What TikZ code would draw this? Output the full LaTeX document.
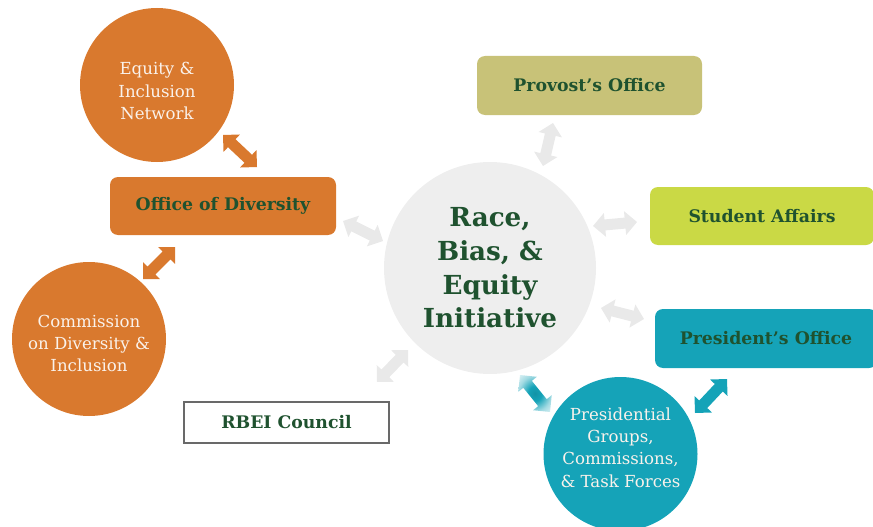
\documentclass[tikz,border=0pt]{standalone}
\usepackage{fontspec}
\setmainfont{DejaVu Serif}
\usetikzlibrary{calc}
\definecolor{orng}{RGB}{217,121,46}
\definecolor{dgreen}{RGB}{31,82,47}
\definecolor{khaki}{RGB}{200,194,120}
\definecolor{limeg}{RGB}{202,217,69}
\definecolor{tealc}{RGB}{21,163,184}
\definecolor{cgray}{RGB}{238,238,238}
\definecolor{agray}{RGB}{233,233,233}
\definecolor{bgray}{RGB}{105,105,105}
\definecolor{ltext}{RGB}{250,242,235}
\pgfdeclareradialshading{glowsh}{\pgfpoint{0bp}{0bp}}{color(0bp)=(tealc!90!black); color(10bp)=(tealc); color(24bp)=(tealc!40); color(36bp)=(tealc!12); color(50bp)=(tealc!6)}
\newcommand\barrow[4]{%
  \coordinate (#4m) at ($(#2)!12pt!(#3)$);
  \coordinate (#4n) at ($(#3)!12pt!(#2)$);
  \path[#1] (#2) -- ($(#4m)!12pt!90:(#3)$) -- ($(#4m)!5.5pt!90:(#3)$)
    -- ($(#4n)!5.5pt!-90:(#2)$) -- ($(#4n)!12pt!-90:(#2)$) -- (#3)
    -- ($(#4n)!12pt!90:(#2)$) -- ($(#4n)!5.5pt!90:(#2)$)
    -- ($(#4m)!5.5pt!-90:(#3)$) -- ($(#4m)!12pt!-90:(#3)$) -- cycle;
}
\tikzset{
  boxlab/.style={rounded corners=8pt, minimum width=225pt, minimum height=59pt,
    inner sep=0pt, text=dgreen, font=\fontsize{17.3}{20}\bfseries\selectfont},
  circ/.style={circle, minimum size=154pt, inner sep=0pt},
  circtext/.style={align=center, text=ltext, font=\fontsize{16.6}{22.3}\selectfont},
  orangearrow/.style={fill=orng},
  grayarrow/.style={fill=agray},
  tealarrow/.style={fill=tealc},
  glowarrow/.style={shading=glowsh},
}
\begin{document}
\begin{tikzpicture}[x=1pt, y=-1pt]
\useasboundingbox (0,0) rectangle (873,527);
% central circle
\node[circle, fill=cgray, minimum size=212pt, inner sep=0pt, align=center, text=dgreen,
  font=\fontsize{26.2}{33.7}\bfseries\selectfont] (rbe) at (490,268)
  {Race,\\Bias, \&\\Equity\\Initiative};
% left group
\node[circ, fill=orng, label={[circtext, yshift=-6pt]center:{Equity \&\\Inclusion\\Network}}] (eqn) at (157,85) {};
\node[boxlab, fill=orng, minimum width=226pt, minimum height=58pt] (div) at (223,206) {Office of Diversity};
\node[circ, fill=orng, label={[circtext, yshift=-4.5pt]center:{Commission\\on Diversity \&\\Inclusion}}] (cdi) at (89,339) {};
\node[draw=bgray, line width=1.3pt, fill=white, minimum width=205pt, minimum height=41pt,
  inner sep=0pt, text=dgreen, font=\fontsize{17.3}{20}\bfseries\selectfont] (rbei) at (286.5,422.5) {RBEI Council};
% right group
\node[boxlab, fill=khaki] (prov) at (589.5,85.5) {Provost’s Office};
\node[boxlab, fill=limeg, minimum width=224pt, minimum height=58pt] (stud) at (762,216) {Student Affairs};
\node[boxlab, fill=tealc, minimum width=222pt] (pres) at (766,338.5) {President’s Office};
\node[circ, fill=tealc, label={[circtext, yshift=6.5pt]center:{Presidential\\Groups,\\Commissions,\\\& Task Forces}}] (pgc) at (620.5,454) {};
% arrow end points
\coordinate (a1s) at (223,135); \coordinate (a1e) at (257,167);
\coordinate (a2s) at (175,247); \coordinate (a2e) at (143,279);
\coordinate (a3s) at (343,221); \coordinate (a3e) at (383,241);
\coordinate (a4s) at (553,123); \coordinate (a4e) at (543,166);
\coordinate (a5s) at (593,226); \coordinate (a5e) at (637,222);
\coordinate (a6s) at (601,308); \coordinate (a6e) at (644,319);
\coordinate (a7s) at (377,382); \coordinate (a7e) at (408,350);
\coordinate (a8s) at (520,375); \coordinate (a8e) at (550,412);
\coordinate (a9s) at (727,379); \coordinate (a9e) at (695,413);
% arrows
\barrow{orangearrow}{a1s}{a1e}{ar1}
\barrow{orangearrow}{a2s}{a2e}{ar2}
\barrow{grayarrow}{a3s}{a3e}{ar3}
\barrow{grayarrow}{a4s}{a4e}{ar4}
\barrow{grayarrow}{a5s}{a5e}{ar5}
\barrow{grayarrow}{a6s}{a6e}{ar6}
\barrow{grayarrow}{a7s}{a7e}{ar7}
\barrow{glowarrow}{a8s}{a8e}{ar8}
\barrow{tealarrow}{a9s}{a9e}{ar9}
\end{tikzpicture}
\end{document}
